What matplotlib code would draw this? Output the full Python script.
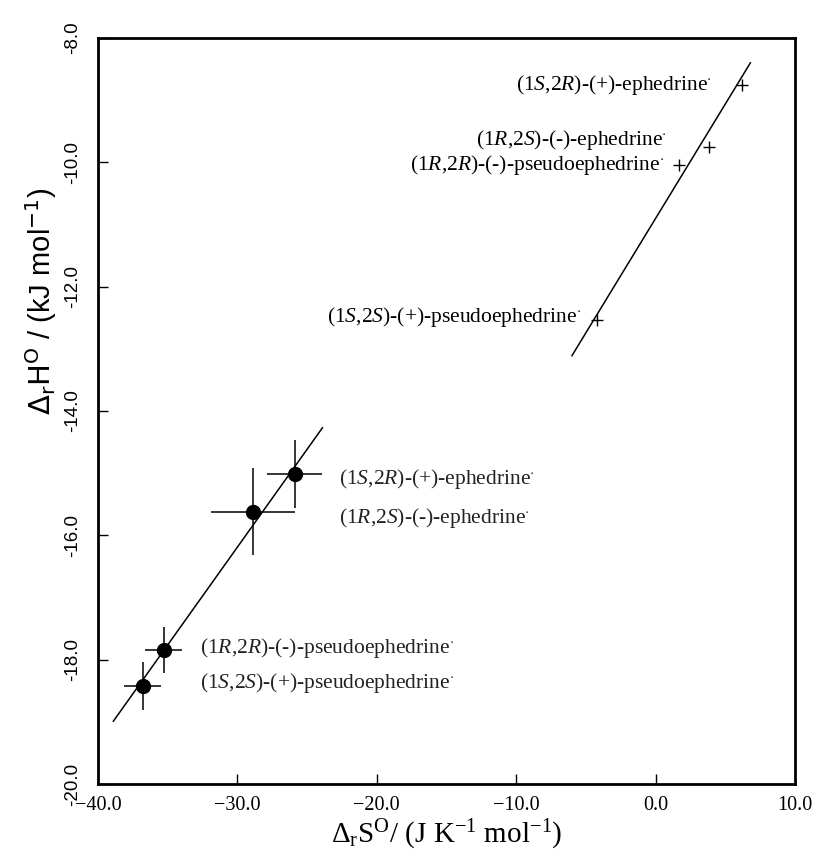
import matplotlib
matplotlib.use("Agg")
import matplotlib.pyplot as plt

plt.rcParams['font.family'] = ['Liberation Serif', 'DejaVu Serif']
plt.rcParams['mathtext.fontset'] = 'custom'
plt.rcParams['mathtext.rm'] = 'Liberation Serif'
plt.rcParams['mathtext.it'] = 'Liberation Serif:italic'
plt.rcParams['mathtext.bf'] = 'Liberation Serif:bold'

# ion-exchange points (filled, with error bars)
dS_filled = [-25.9, -28.9, -35.3, -36.8]
dH_filled = [-15.01, -15.62, -17.84, -18.42]
dS_err = [2.0, 3.0, 1.3, 1.35]
dH_err = [0.55, 0.7, 0.37, 0.39]

# the other series (plus markers)
dS_plus = [6.2, 3.8, 1.7, -4.2]
dH_plus = [-8.76, -9.75, -10.04, -12.54]

# compensation lines (end points)
line_left_x = [-38.9, -23.9]
line_left_y = [-18.99, -14.27]
line_right_x = [-6.0, 6.8]
line_right_y = [-13.11, -8.40]

names = [r'(1$\it{S}$,2$\it{R}$)-(+)-ephedrine$^{\cdot}$',
         r'(1$\it{R}$,2$\it{S}$)-(-)-ephedrine$^{\cdot}$',
         r'(1$\it{R}$,2$\it{R}$)-(-)-pseudoephedrine$^{\cdot}$',
         r'(1$\it{S}$,2$\it{S}$)-(+)-pseudoephedrine$^{\cdot}$']

xticks = [-40, -30, -20, -10, 0, 10]
yticks = [-20, -18, -16, -14, -12, -10, -8]

fig = plt.figure(figsize=(8.21, 8.6), dpi=100)
ax = fig.add_axes([0.1194, 0.0884, 0.8489, 0.8674])

ax.plot(line_left_x, line_left_y, color='k', lw=1.1)
ax.plot(line_right_x, line_right_y, color='k', lw=1.1)
ax.errorbar(dS_filled, dH_filled, xerr=dS_err, yerr=dH_err, fmt='o', color='k',
            ms=10, elinewidth=1.1, capsize=0)
ax.plot(dS_plus, dH_plus, '+', color='k', ms=9, mew=1.0)

# labels for the plus points (right-aligned, left of the points)
plus_lab_x = [4.05, 0.8, 0.6, -5.3]
plus_lab_y = [-8.76, -9.64, -10.04, -12.49]
for t, x, y in zip(names, plus_lab_x, plus_lab_y):
    ax.text(x, y, t, ha='right', va='center', fontsize=15.5)

# labels for the filled points (left-aligned)
fill_lab_x = [-22.7, -22.7, -32.7, -32.7]
fill_lab_y = [-15.09, -15.72, -17.81, -18.37]
for t, x, y in zip(names, fill_lab_x, fill_lab_y):
    ax.text(x, y, t, ha='left', va='center', fontsize=15.5, color='#222222')

ax.set_xlim(-40, 10)
ax.set_ylim(-20, -8)
ax.set_xticks(xticks)
ax.set_xticklabels(['\u2212%.1f' % abs(v) if v < 0 else '%.1f' % v for v in xticks],
                   fontsize=14.5)
ax.set_yticks(yticks)
ax.set_yticklabels(['-%.1f' % abs(v) for v in yticks], rotation=90, va='center',
                   fontsize=13.5, family=['Liberation Sans', 'DejaVu Sans'])
ax.tick_params(direction='in', length=7, width=1.0, top=False, right=False)
ax.tick_params(axis='x', pad=9)
ax.tick_params(axis='y', pad=12)
for s in ax.spines.values():
    s.set_linewidth(2.0)

ax.set_xlabel(r'$\Delta_{\rm r}\mathrm{S}^{\rm O}$/ (J K$^{-1}$ mol$^{-1}$)', fontsize=21,
              labelpad=2)
fig.text(0.05, 0.65, r'$\Delta_{\mathsf{r}}\mathsf{H}^{\mathsf{O}}$ / (kJ mol$^{-1}$)',
         rotation=90, ha='center', va='center', fontsize=21,
         family=['Liberation Sans', 'DejaVu Sans'], math_fontfamily='dejavusans')

fig.savefig('out.png', dpi=100)
